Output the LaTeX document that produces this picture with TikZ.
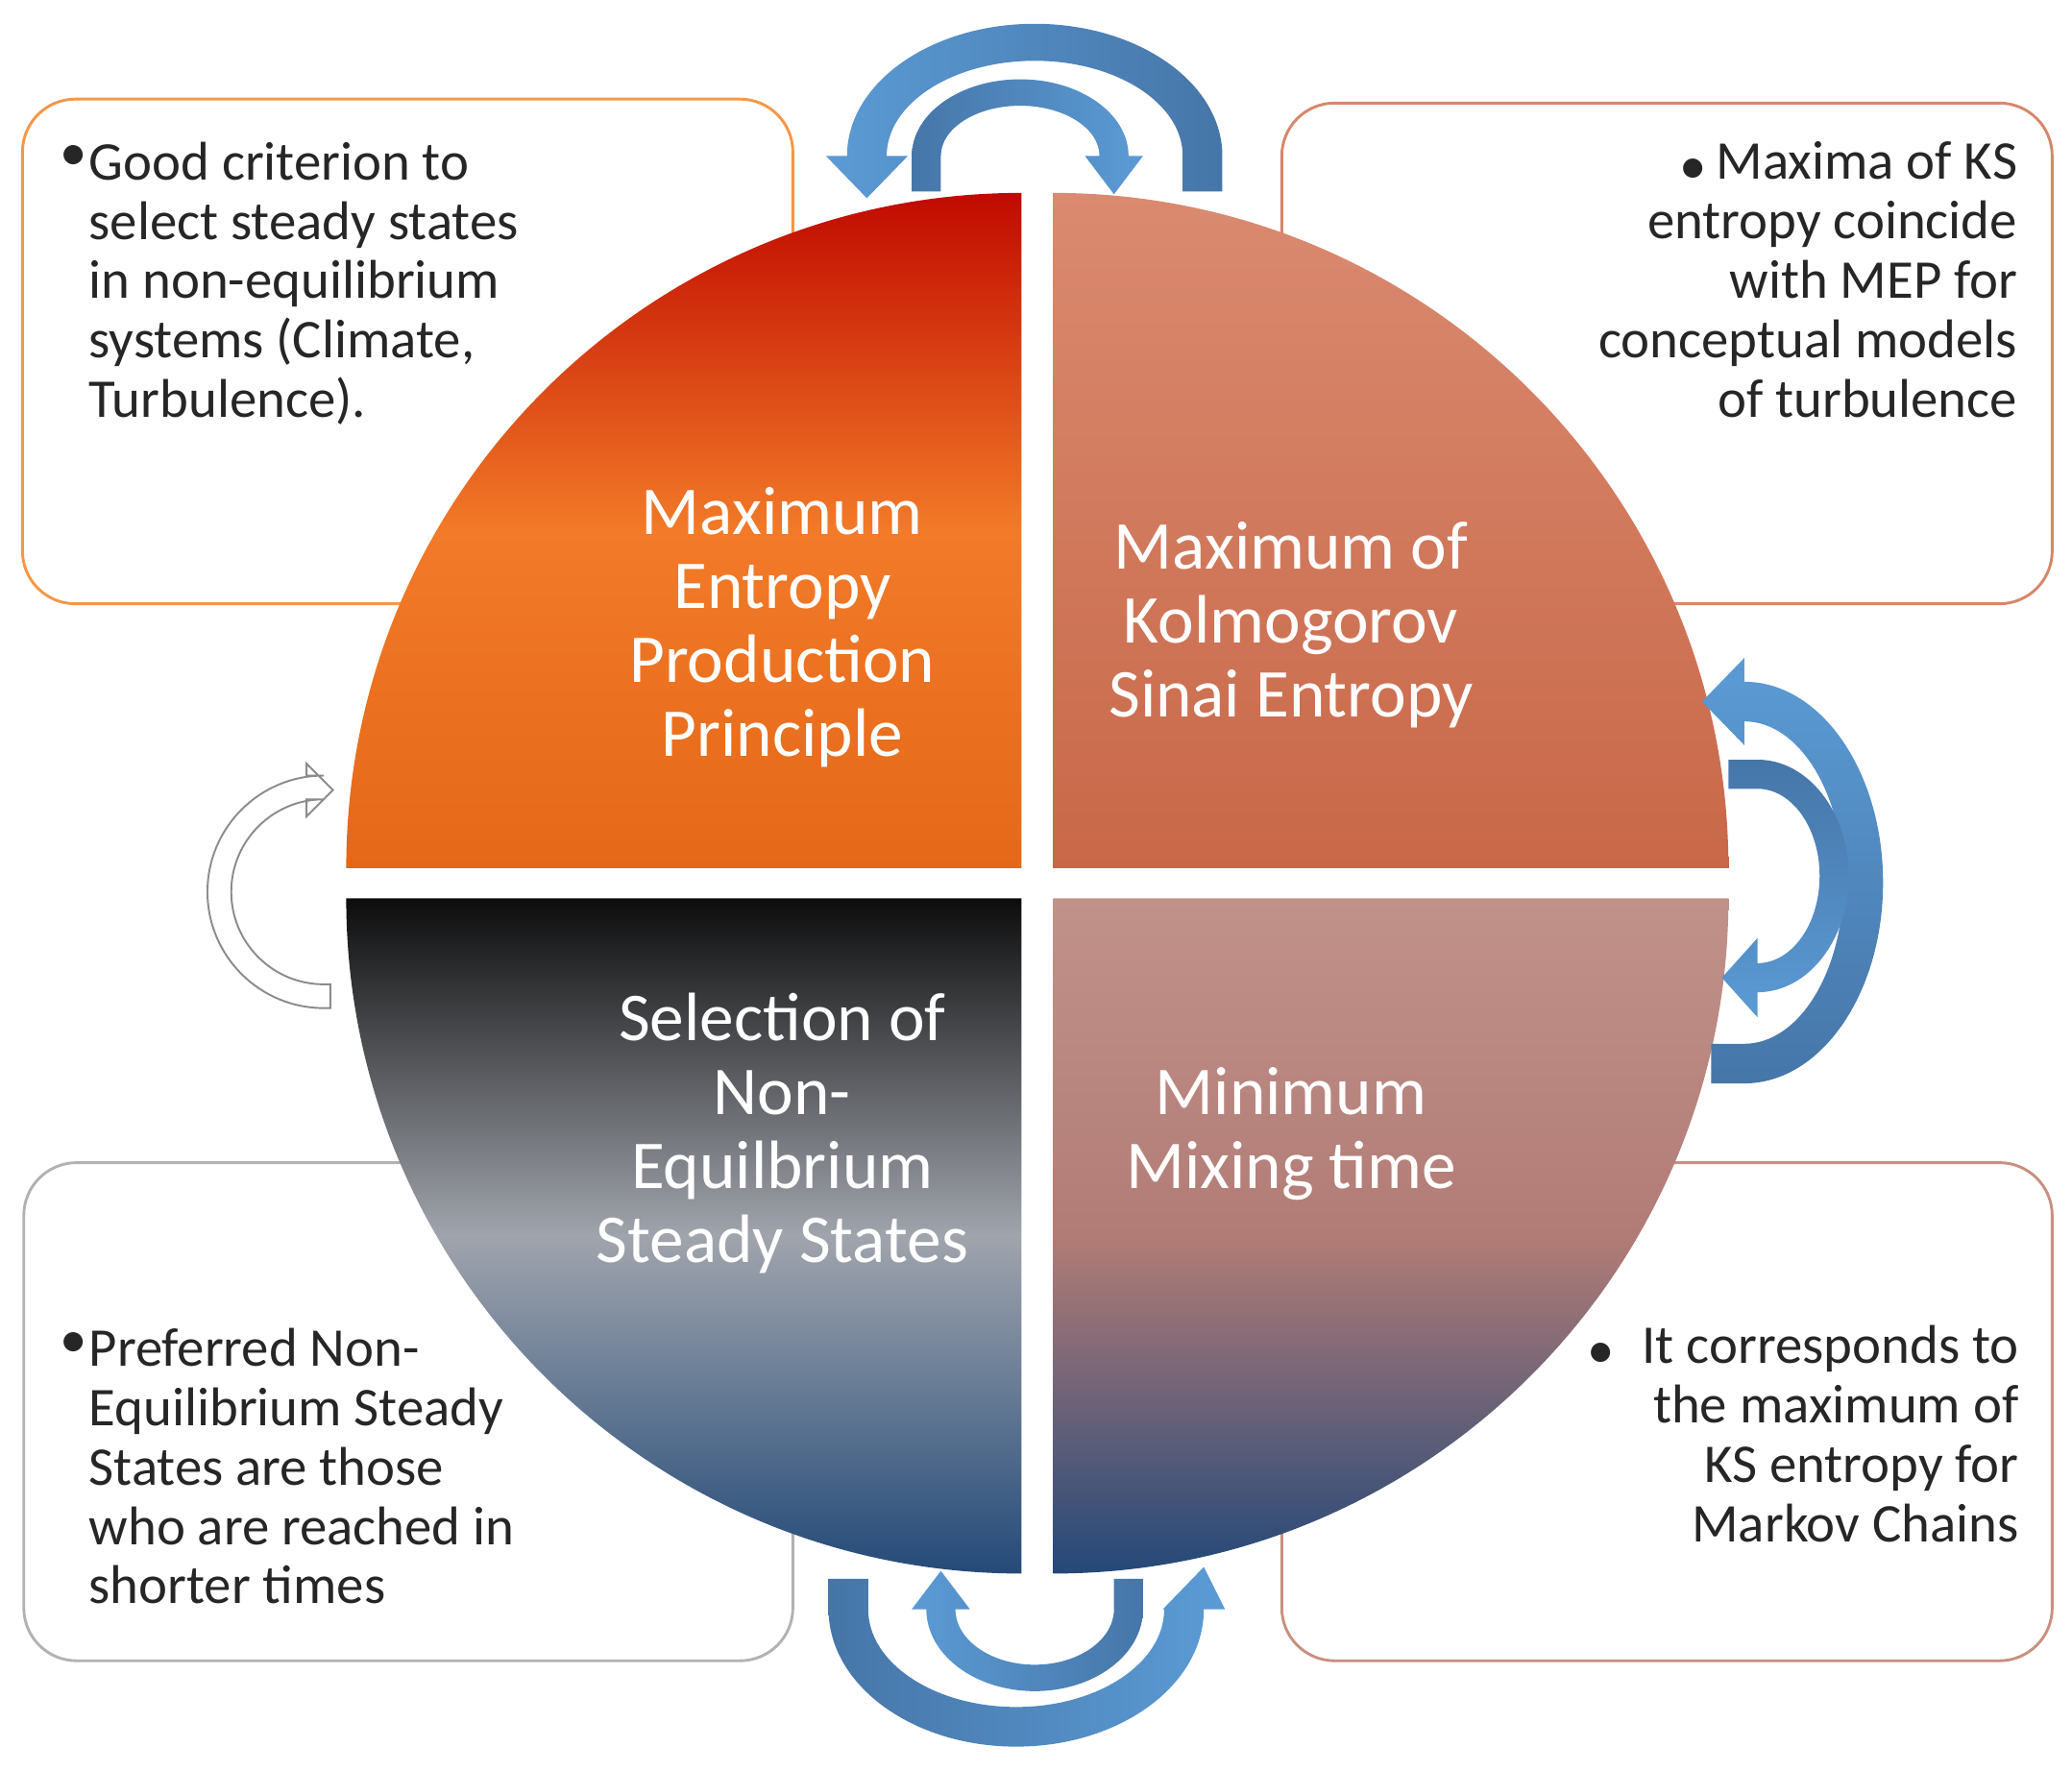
\documentclass[tikz,border=0pt]{standalone}
\usepackage{fontspec}
\setmainfont{Carlito}
\begin{document}
\begin{tikzpicture}[x=0.02cm,y=-0.02cm,
  box/.style={line width=1.2pt,rounded corners=0.8cm},
  btxt/.style={inner sep=0pt,text=black!85,font=\fontsize{23.5}{25.6}\selectfont},
  qtxt/.style={inner sep=0pt,text=white,align=center,font=\fontsize{29.5}{31.9}\selectfont},
]
\definecolor{lblue}{HTML}{5B9BD5}
\definecolor{dblue}{HTML}{4676A8}
\useasboundingbox (0,0) rectangle (1568,1340);
% boxes
\draw[box,draw={rgb,255:red,247;green,150;blue,70}] (17,75) rectangle (600,457);
\draw[box,draw={rgb,255:red,214;green,135;blue,106}] (970,78) rectangle (1553,457);
\draw[box,draw=black!30] (18,880) rectangle (600,1257);
\draw[box,draw={rgb,255:red,200;green,144;blue,127}] (970,880) rectangle (1553,1257);
% quadrants
\shade[top color={rgb,255:red,192;green,10;blue,0},bottom color={rgb,255:red,228;green,104;blue,24},middle color={rgb,255:red,242;green,122;blue,40}]
 (773,657) -- (262,657) arc[start angle=180,end angle=270,radius=511] -- cycle;
\shade[top color={rgb,255:red,218;green,138;blue,112},bottom color={rgb,255:red,200;green,104;blue,72}]
 (797,657) -- (797,146) arc[start angle=270,end angle=360,radius=511] -- cycle;
\shade[top color={rgb,255:red,192;green,146;blue,138},bottom color={rgb,255:red,36;green,72;blue,120},middle color={rgb,255:red,178;green,124;blue,118}]
 (797,680) -- (1308,680) arc[start angle=0,end angle=90,radius=511] -- cycle;
\shade[top color=black!95,bottom color={rgb,255:red,36;green,74;blue,120},middle color={rgb,255:red,160;green,164;blue,172}]
 (773,680) -- (773,1191) arc[start angle=90,end angle=180,radius=511] -- cycle;
% quadrant texts
\node[qtxt] (q1) at (592,475) {Maximum\\Entropy\\Production\\Principle};
\node[qtxt] (q2) at (977,473) {Maximum of\\Kolmogorov\\Sinai Entropy};
\node[qtxt] (q3) at (592,858) {Selection of\\Non-\\Equilbrium\\Steady States};
\node[qtxt] (q4) at (977,858) {Minimum\\Mixing time};
% box texts
\node[btxt,anchor=north west] (b1) at (45,110) {\textbullet};
\node[btxt,anchor=north west,align=left] (t1) at (67,107) {Good criterion to\\select steady states\\in non-equilibrium\\systems (Climate,\\Turbulence).};
\node[btxt,anchor=north east,align=right] (t2) at (1527,107) {\raisebox{-2pt}{\textbullet}\,Maxima of KS\\entropy coincide\\with MEP for\\conceptual models\\of turbulence};
\node[btxt,anchor=north west] (b3) at (45,1008) {\textbullet};
\node[btxt,anchor=north west,align=left] (t3) at (67,1005) {Preferred Non-\\Equilibrium Steady\\States are those\\who are reached in\\shorter times};
\node[btxt,anchor=north east,align=right] (t4) at (1528,1003) {\raisebox{-2pt}{\textbullet}\enskip It corresponds to\\the maximum of\\KS entropy for\\Markov Chains};
% top arrows
\shade[left color=lblue,right color=dblue]
 (925,145) -- (925,118) arc[start angle=0,end angle=-180,x radius=142,y radius=100] -- (625,118) -- (656,150) -- (687,118) -- (671,118) arc[start angle=180,end angle=360,x radius=112,y radius=72] -- (895,145) -- cycle;
\shade[left color=dblue,right color=lblue]
 (690,145) -- (690,118) arc[start angle=180,end angle=360,x radius=82,y radius=58] -- (865,118) -- (843,147) -- (821,118) -- (832,118) arc[start angle=360,end angle=180,x radius=60,y radius=38] -- (712,145) -- cycle;
% right arrows
\shade[top color=lblue,bottom color=dblue]
 (1295,820) -- (1320,820) arc[start angle=90,end angle=-90,x radius=105,y radius=152] -- (1320,498) -- (1288,531) -- (1320,564) -- (1320,546) arc[start angle=-90,end angle=90,x radius=75,y radius=122] -- (1295,790) -- cycle;
\shade[top color=dblue,bottom color=lblue]
 (1308,575) -- (1330,575) arc[start angle=-90,end angle=90,x radius=69,y radius=88] -- (1330,770) -- (1303,740) -- (1330,710) -- (1330,729) arc[start angle=90,end angle=-90,x radius=47,y radius=66] -- (1308,597) -- cycle;
% bottom arrows
\shade[left color=dblue,right color=lblue]
 (627,1195) -- (627,1218) arc[start angle=180,end angle=0,x radius=142,y radius=104] -- (927,1218) -- (911,1186) -- (880,1218) -- (881,1218) arc[start angle=0,end angle=180,x radius=112,y radius=74] -- (657,1195) -- cycle;
\shade[left color=lblue,right color=dblue]
 (865,1195) -- (865,1218) arc[start angle=0,end angle=180,x radius=82,y radius=62] -- (690,1218) -- (712,1189) -- (734,1218) -- (723,1218) arc[start angle=180,end angle=0,x radius=60,y radius=42] -- (843,1195) -- cycle;
% left small arrow
\draw[fill=white,draw=black!45,line width=0.8pt]
 (250,763) -- (245,763) arc[start angle=90,end angle=270,radius=88] -- (232,587) -- (232,578) -- (252,598) -- (232,618) -- (232,605) -- (245,605) arc[start angle=270,end angle=90,radius=70] -- (250,745) -- cycle;
\end{tikzpicture}
\end{document}
